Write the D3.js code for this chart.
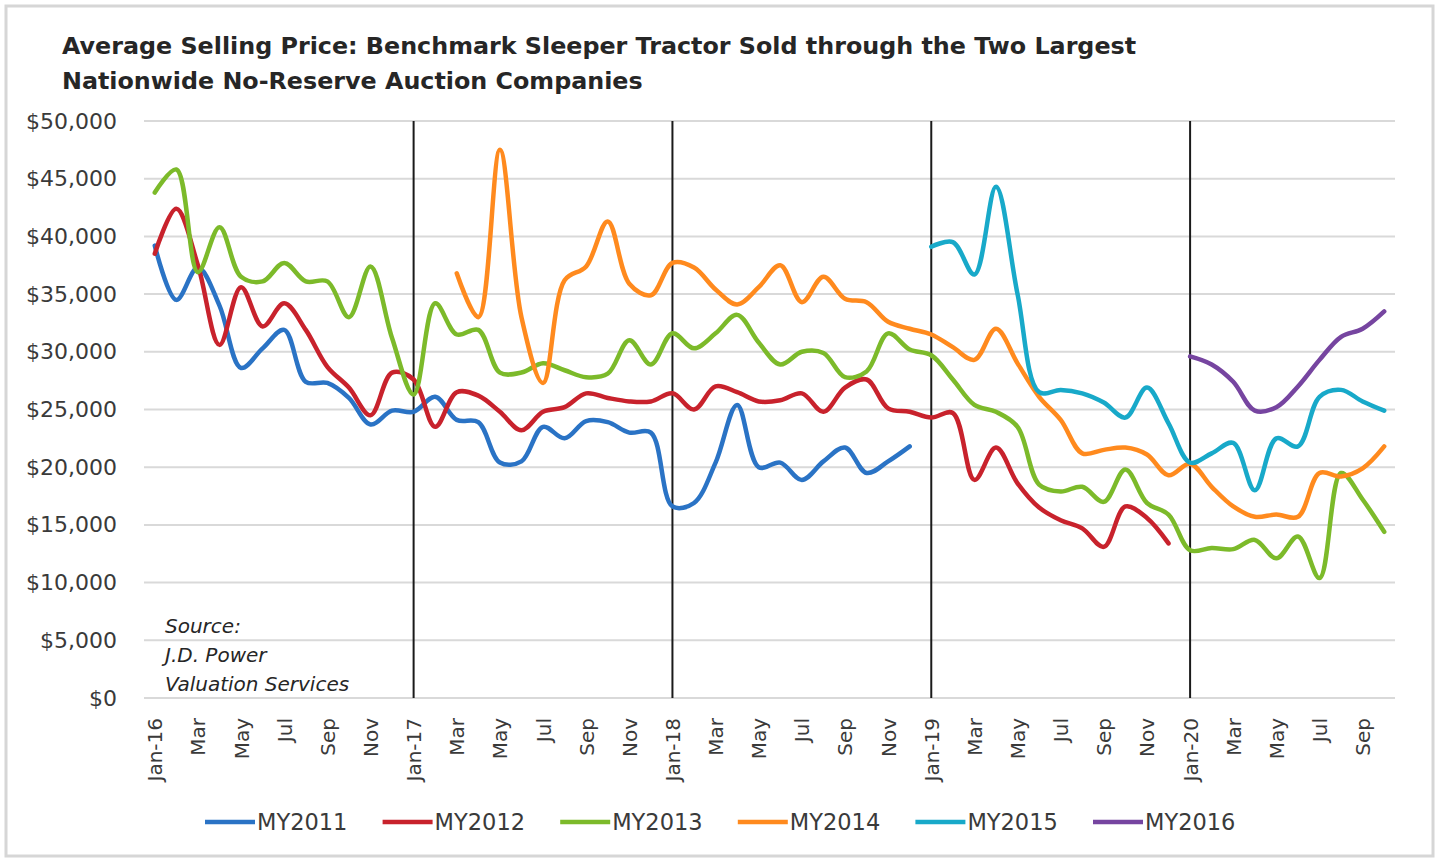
<!DOCTYPE html>
<html>
<head>
<meta charset="utf-8">
<script src="https://cdn.jsdelivr.net/npm/d3@7"></script>
<style>
  html, body { margin: 0; padding: 0; background: #fff; }
  svg { display: block; font-family: "DejaVu Sans", Verdana, sans-serif; }
</style>
</head>
<body>
<div id="chart"></div>
<script>
// monthly, Jan-16 .. Oct-20 (58 months); null = model year not on the market yet / dropped
const months = d3.timeMonths(new Date(2016, 0, 1), new Date(2020, 10, 1));
const yearStarts = [12, 24, 36, 48]; // Jan-17, Jan-18, Jan-19, Jan-20

const my2011 = [
  39.2, 34.5, 37.3, 34.0, 28.6, 30.3, 31.9, 27.4, 27.3, 26.0, 23.7, 24.9,
  24.8, 26.1, 24.1, 23.9, 20.4, 20.5, 23.5, 22.5, 24.0, 23.9, 23.0, 23.0,
  16.6, 16.9, 20.4, 25.4, 20.0, 20.4, 18.9, 20.5, 21.7, 19.5, 20.5, 21.8
];
const my2012 = [
  38.5, 42.4, 37.5, 30.6, 35.6, 32.2, 34.2, 31.9, 28.7, 26.9, 24.5, 28.2,
  27.6, 23.5, 26.5, 26.2, 24.8, 23.2, 24.8, 25.2, 26.4, 26.0, 25.7, 25.7,
  26.4, 25.0, 27.0, 26.5, 25.7, 25.8, 26.4, 24.8, 26.9, 27.6, 25.1, 24.8,
  24.3, 24.7, 18.9, 21.7, 18.6, 16.5, 15.4, 14.7, 13.1, 16.6, 15.6, 13.4
];
const my2013 = [
  43.8, 45.8, 36.9, 40.8, 36.5, 36.1, 37.7, 36.1, 36.1, 33.0, 37.4, 31.2,
  26.3, 34.2, 31.5, 31.9, 28.2, 28.2, 29.0, 28.4, 27.8, 28.1, 31.0, 28.9,
  31.6, 30.3, 31.6, 33.2, 30.8, 28.9, 30.0, 29.9, 27.8, 28.3, 31.6, 30.2,
  29.7, 27.6, 25.4, 24.8, 23.5, 18.5, 17.9, 18.3, 17.0, 19.8, 16.9, 15.9,
  12.8, 13.0, 12.9, 13.7, 12.1, 14.0, 10.4, 19.5, 17.2, 14.4
];
const my2014 = [
  null, null, null, null, null, null, null, null, null, null, null, null,
  null, null, 36.8, 33.0, 47.5, 33.0, 27.3, 36.2, 37.4, 41.3, 35.9, 34.9,
  37.7, 37.3, 35.4, 34.1, 35.6, 37.5, 34.3, 36.5, 34.6, 34.3, 32.6, 32.0,
  31.5, 30.4, 29.3, 32.0, 29.0, 26.1, 24.1, 21.2, 21.5, 21.7, 21.1, 19.3,
  20.3, 18.3, 16.6, 15.7, 15.9, 15.7, 19.5, 19.2, 19.9, 21.8
];
const my2015 = [
  null, null, null, null, null, null, null, null, null, null, null, null,
  null, null, null, null, null, null, null, null, null, null, null, null,
  null, null, null, null, null, null, null, null, null, null, null, null,
  39.1, 39.5, 36.7, 44.3, 35.0, 26.5, 26.7, 26.4, 25.6, 24.3, 26.9, 23.8,
  20.4, 21.2, 22.1, 18.0, 22.5, 21.8, 26.1, 26.7, 25.7, 24.9
];
const my2016 = [
  null, null, null, null, null, null, null, null, null, null, null, null,
  null, null, null, null, null, null, null, null, null, null, null, null,
  null, null, null, null, null, null, null, null, null, null, null, null,
  null, null, null, null, null, null, null, null, null, null, null, null,
  29.6, 28.9, 27.4, 24.9, 25.2, 27.0, 29.3, 31.3, 32.0, 33.5
];

const seriesNames = ['MY2011', 'MY2012', 'MY2013', 'MY2014', 'MY2015', 'MY2016'];
const seriesValues = [my2011, my2012, my2013, my2014, my2015, my2016];
const seriesColors = ['#2a73c5', '#c8222c', '#7cba2a', '#ff8a1e', '#18a9c9', '#7645a0'];

const W = 1440, H = 864;
const svg = d3.select('#chart').append('svg').attr('width', W).attr('height', H);

// outer frame
svg.append('rect').attr('x', 6).attr('y', 6).attr('width', W - 13).attr('height', H - 14)
  .attr('fill', '#fff').attr('stroke', '#d6d6d6').attr('stroke-width', 3);

// title
const title = svg.append('text').attr('x', 62).attr('y', 54)
  .attr('font-size', 23.8).attr('font-weight', 'bold').attr('fill', '#262626');
title.append('tspan').attr('x', 62).text('Average Selling Price:  Benchmark Sleeper Tractor Sold through the Two Largest');
title.append('tspan').attr('x', 62).attr('dy', 35).text('Nationwide No-Reserve Auction Companies');

const x = d3.scalePoint().domain(d3.range(months.length)).range([144, 1395]).padding(0.5);
const y = d3.scaleLinear().domain([0, 50000]).range([698, 121]);

// gridlines
svg.append('g').selectAll('line').data(y.ticks(10)).join('line')
  .attr('x1', 144).attr('x2', 1395)
  .attr('y1', d => y(d)).attr('y2', d => y(d))
  .attr('stroke', '#d9d9d9').attr('stroke-width', 2);

// y axis labels
const yAxis = svg.append('g').attr('transform', 'translate(144,0)')
  .call(d3.axisLeft(y).tickValues(d3.range(0, 50001, 5000)).tickSize(0).tickPadding(27).tickFormat(d3.format('$,')));
yAxis.select('.domain').remove();
yAxis.selectAll('text').attr('font-size', 22).attr('fill', '#3a3a3a')
  .style('font-family', '"DejaVu Sans", Verdana, sans-serif');

// x axis labels
const fmtJan = d3.timeFormat('%b-%y'), fmtMon = d3.timeFormat('%b');
const xAxis = svg.append('g').attr('transform', 'translate(0,698)')
  .call(d3.axisBottom(x).tickValues(d3.range(0, months.length, 2)).tickSize(0)
    .tickFormat(i => months[i].getMonth() === 0 ? fmtJan(months[i]) : fmtMon(months[i])));
xAxis.select('.domain').remove();
xAxis.selectAll('text')
  .attr('transform', 'rotate(-90)')
  .attr('x', -20).attr('y', 0).attr('dy', '0.35em')
  .attr('text-anchor', 'end')
  .attr('font-size', 20).attr('fill', '#3a3a3a')
  .style('font-family', '"DejaVu Sans", Verdana, sans-serif');

// year separators
svg.append('g').selectAll('line').data(yearStarts).join('line')
  .attr('x1', d => x(d)).attr('x2', d => x(d))
  .attr('y1', y(50000)).attr('y2', y(0))
  .attr('stroke', '#1a1a1a').attr('stroke-width', 2);

// series
const line = d3.line()
  .defined(d => d != null)
  .x((d, i) => x(i))
  .y(d => y(d * 1000))
  .curve(d3.curveCatmullRom.alpha(0.5));

svg.append('g').selectAll('path').data(seriesValues).join('path')
  .attr('d', d => line(d))
  .attr('fill', 'none')
  .attr('stroke', (d, i) => seriesColors[i])
  .attr('stroke-width', 4.5)
  .attr('stroke-linejoin', 'round')
  .attr('stroke-linecap', 'round');

// source note
const src = svg.append('text').attr('x', 165).attr('font-size', 20)
  .attr('font-style', 'italic').attr('fill', '#262626');
['Source:', 'J.D. Power', 'Valuation Services'].forEach((t, i) => {
  src.append('tspan').attr('x', 165).attr('y', 633 + i * 29).text(t);
});

// legend
const legend = svg.append('g').selectAll('g').data(seriesNames).join('g')
  .attr('transform', (d, i) => `translate(${205 + i * 177.6},822)`);
legend.append('line').attr('x1', 0).attr('x2', 50)
  .attr('stroke', (d, i) => seriesColors[i]).attr('stroke-width', 4.5);
legend.append('text').attr('x', 52).attr('dy', '0.36em')
  .attr('font-size', 22.5).attr('fill', '#3a3a3a').text(d => d);
</script>
</body>
</html>
